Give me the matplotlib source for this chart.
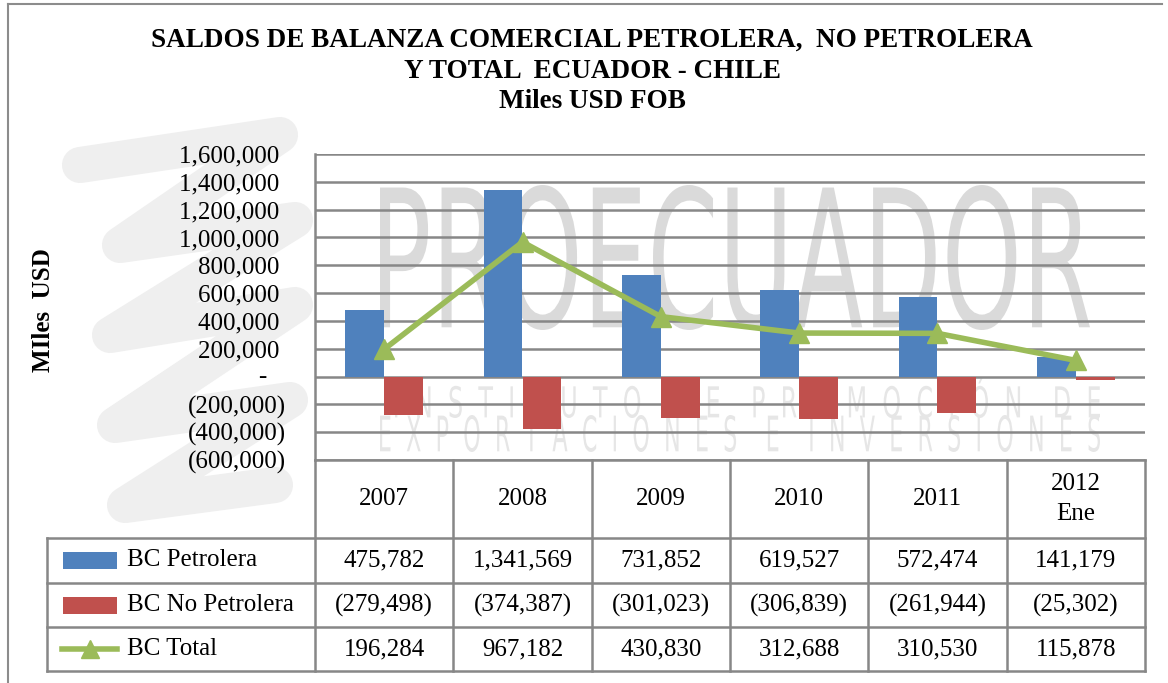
import matplotlib
matplotlib.use("Agg")
import matplotlib.pyplot as plt
import numpy as np
from matplotlib.lines import Line2D
from matplotlib.patches import Rectangle, PathPatch
from matplotlib.textpath import TextPath
from matplotlib.font_manager import FontProperties
from matplotlib.transforms import Affine2D

# ---------------- data ----------------
categories = ['2007', '2008', '2009', '2010', '2011', '2012\nEne']
bc_petrolera = [475782, 1341569, 731852, 619527, 572474, 141179]
bc_no_petrolera = [-279498, -374387, -301023, -306839, -261944, -25302]
bc_total = [196284, 967182, 430830, 312688, 310530, 115878]
series_names = ['BC Petrolera', 'BC No Petrolera', 'BC Total']
yticks = list(range(-600000, 1600001, 200000))

# ---------------- style ----------------
W, H = 1168, 683
BLUE = '#4F81BD'
RED = '#C0504D'
GREEN = '#9BBB59'
GRID = '#878787'
SERIF = ['Liberation Serif', 'DejaVu Serif']
plt.rcParams['font.family'] = SERIF
FS = 18

fig = plt.figure(figsize=(W / 100, H / 100), dpi=100)
fig.patch.set_facecolor('white')


def fx(x):
    return np.asarray(x) / W


def fy(y):
    return 1 - np.asarray(y) / H


# outer frame
fig.add_artist(Line2D([fx(8), fx(8)], [fy(4), fy(683)], color='#8c8c8c', lw=1.5, zorder=0.05))
fig.add_artist(Line2D([fx(8), fx(1162)], [fy(4), fy(4)], color='#8c8c8c', lw=1.5, zorder=0.05))

# ---------------- watermark ----------------
def text_in_box(s, x0, y0, x1, y1, color, zorder=0.2, weight='normal'):
    prop = FontProperties(family='DejaVu Sans', weight=weight)
    tp = TextPath((0, 0), s, size=100, prop=prop)
    ext = tp.get_extents()
    sx = (fx(x1) - fx(x0)) / ext.width
    sy = (fy(y0) - fy(y1)) / ext.height
    tr = Affine2D().translate(-ext.x0, -ext.y0).scale(sx, sy).translate(fx(x0), fy(y1))
    patch = PathPatch(tr.transform_path(tp), facecolor=color, edgecolor='none',
                      transform=fig.transFigure, zorder=zorder)
    fig.add_artist(patch)

# zig-zag swirl on the left (decorative background)
sw_x = [80, 280, 120, 295, 110, 295, 115, 290, 125, 275]
sw_y = [165, 135, 245, 220, 335, 305, 425, 400, 505, 485]
fig.add_artist(Line2D(fx(sw_x), fy(sw_y), color='#efefef', lw=26,
                      solid_capstyle='round', solid_joinstyle='round', zorder=0.1))

# watermark text inside plot (behind grid)
text_in_box('PROECUADOR', 380, 185, 1090, 330, '#dadada', zorder=0.3)
text_in_box('I  N  S  T  I  T  U  T  O    D  E    P  R  O  M  O  C  I  Ó  N    D  E',
            395, 378, 1100, 418, '#e6e6e6', zorder=0.3)
text_in_box('E  X  P  O  R  T  A  C  I  O  N  E  S    E    I  N  V  E  R  S  I  O  N  E  S',
            380, 415, 1100, 452, '#e6e6e6', zorder=0.3)

# ---------------- main axes ----------------
ax_l, ax_r, ax_t, ax_b = 315, 1145, 154, 460
ax = fig.add_axes([fx(ax_l), fy(ax_b), fx(ax_r) - fx(ax_l), fy(ax_t) - fy(ax_b)])
ax.set_zorder(1)
ax.patch.set_alpha(0)
ax.set_xlim(-0.5, len(categories) - 0.5)
ax.set_ylim(-600000, 1600000)

x = np.arange(len(categories))
bw = 0.28
ax.bar(x - bw, bc_petrolera, width=bw, align='edge', color=BLUE, zorder=3)
ax.bar(x, bc_no_petrolera, width=bw, align='edge', color=RED, zorder=3)
ax.plot(x, bc_total, color=GREEN, lw=4, marker='^', markersize=14, zorder=4)

ax.set_yticks(yticks)


def fmt(v):
    if v == 0:
        return ''
    if v < 0:
        return '({:,})'.format(-v)
    return '{:,}\u00a0'.format(v)


ax.set_yticklabels([fmt(v) for v in yticks], fontsize=FS)
ax.tick_params(axis='y', length=0, pad=21)
# zero label of the accounting format: a dash set in the digit column
ax.text((262 - ax_l) / (ax_r - ax_l), 0, '-', transform=ax.get_yaxis_transform(),
        ha='center', va='center', fontsize=FS, clip_on=False)
ax.set_xticks([])
ax.yaxis.grid(True, color=GRID, lw=1.8, zorder=1)
ax.set_axisbelow(True)
for s in ['top', 'right', 'bottom']:
    ax.spines[s].set_visible(False)
ax.spines['left'].set_color(GRID)
ax.spines['left'].set_linewidth(1.8)

ax.set_ylabel('MIles  USD', fontsize=FS, fontweight='bold')
ax.yaxis.set_label_coords((55 - ax_l) / (ax_r - ax_l), (460 - 310) / (ax_b - ax_t))

# ---------------- title ----------------
title_lines = ['SALDOS DE BALANZA COMERCIAL PETROLERA,  NO PETROLERA',
               'Y TOTAL  ECUADOR - CHILE', 'Miles USD FOB']
for yy, t in zip([40, 71, 101], title_lines):
    fig.text(fx(592), fy(yy), t, ha='center', va='center', fontsize=19.5,
             fontweight='bold', family=SERIF)

# ---------------- data table ----------------
edges_data = np.arange(len(categories) + 1) - 0.5
edges_px = [ax.transData.transform((e, 0))[0] for e in edges_data]
edges_fx = [p / fig.bbox.width for p in edges_px]
left_fx = fx(47)
row_y = [460, 538, 583, 627, 671]
lw_t = 1.8
fig.add_artist(Line2D([edges_fx[0], edges_fx[-1]], [fy(row_y[0])] * 2, color=GRID, lw=lw_t))
for ry in row_y[1:]:
    fig.add_artist(Line2D([left_fx, edges_fx[-1]], [fy(ry)] * 2, color=GRID, lw=lw_t))
for e in edges_fx:
    fig.add_artist(Line2D([e, e], [fy(row_y[0]), fy(row_y[-1])], color=GRID, lw=lw_t))
fig.add_artist(Line2D([left_fx, left_fx], [fy(row_y[1]), fy(row_y[-1])], color=GRID, lw=lw_t))

centers_fx = [(edges_fx[i] + edges_fx[i + 1]) / 2 for i in range(len(categories))]
hdr_y = fy((row_y[0] + row_y[1]) / 2)
for cx, c in zip(centers_fx, categories):
    fig.text(cx, hdr_y, c, ha='center', va='center', fontsize=FS, linespacing=1.45)


def fmt_cell(v):
    if v < 0:
        return '({:,})'.format(-v)
    return '{:,}'.format(v)


all_series = [bc_petrolera, bc_no_petrolera, bc_total]
for i, (name, vals) in enumerate(zip(series_names, all_series)):
    cy = fy((row_y[i + 1] + row_y[i + 2]) / 2)
    for cx, v in zip(centers_fx, vals):
        fig.text(cx, cy, fmt_cell(v), ha='center', va='center', fontsize=FS)
    fig.text(fx(127), cy, name, ha='left', va='center', fontsize=FS)
    if i < 2:
        hh = fy(550) - fy(567)
        fig.add_artist(Rectangle((fx(63), cy - hh / 2), fx(117) - fx(63), hh,
                                 facecolor=[BLUE, RED][i], edgecolor='none'))
    else:
        fig.add_artist(Line2D([fx(62), fx(117)], [cy, cy], color=GREEN, lw=4))
        fig.add_artist(Line2D([fx(90)], [cy], color=GREEN, marker='^', markersize=13, lw=0))

fig.savefig('out.png', dpi=100, facecolor='white')
